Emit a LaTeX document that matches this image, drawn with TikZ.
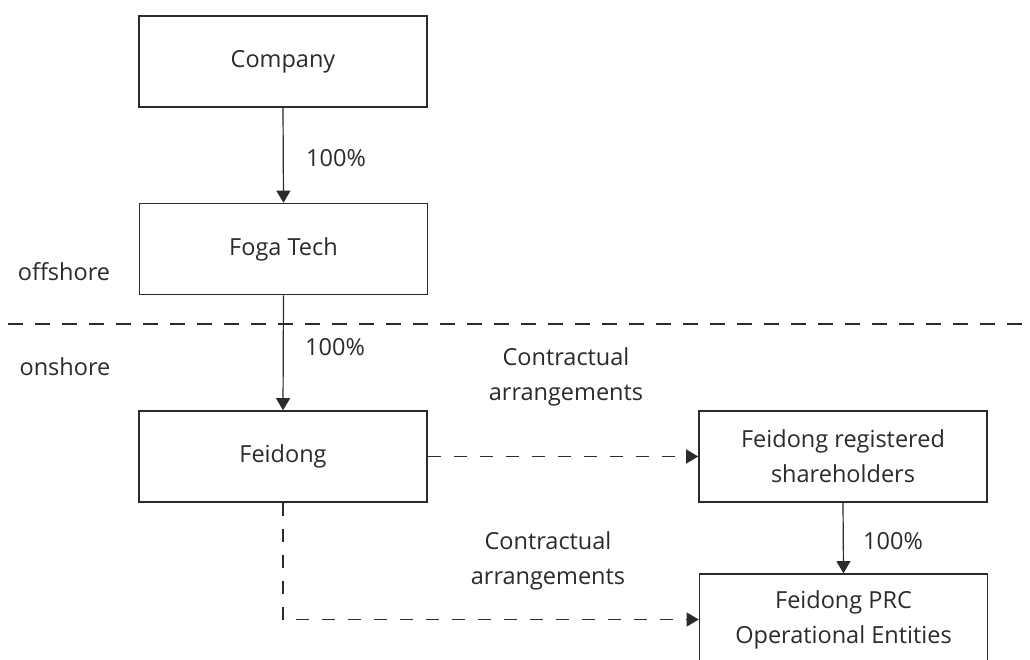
\documentclass[tikz,border=0pt]{standalone}
\usepackage{fontspec}
\setmainfont{Open Sans}
\usetikzlibrary{arrows.meta}
\definecolor{ink}{HTML}{2B2B2B}
\begin{document}
\begin{tikzpicture}[x=1pt,y=-1pt,
  every node/.style={text=ink,font=\fontsize{23.5}{35}\selectfont},
  box/.style={draw=ink,line width=1.6pt,minimum width=288pt,minimum height=91pt,align=center,inner sep=0pt},
  lbl/.style={align=center,inner sep=0pt},
  conn/.style={draw=ink,line width=1.2pt,-{Triangle[length=12pt,width=14pt]}},
  dconn/.style={conn,dash pattern=on 13pt off 13pt},
  divider/.style={draw=ink,line width=1.2pt,dash pattern=on 15pt off 12pt}]
\fill[white] (0,0) rectangle (1030,659);
\clip (0,0) rectangle (1030,659);
\useasboundingbox (0,0) rectangle (1030,659);

\node[box] (company) at (283,61.5) {Company};
\node[box] (foga) at (283.5,249) {Foga Tech};
\node[box] (feidong) at (283,456.5) {Feidong};
\node[box] (frs) at (843,456.5) {Feidong registered\\shareholders};
\node[box] (prc) at (843.5,619.5) {Feidong PRC\\Operational Entities};

\node[lbl] (off) at (64,272) {offshore};
\node[lbl] (on) at (65,367) {onshore};
\node[lbl] (p1) at (336,158) {100\%};
\node[lbl] (p2) at (335,347) {100\%};
\node[lbl] (p3) at (893,541) {100\%};
\node[lbl] (c1) at (566,377) {Contractual\\arrangements};
\node[lbl] (c2) at (548,561) {Contractual\\arrangements};

\coordinate (dl) at (8,324);
\coordinate (dr) at (1022,324);
\draw[divider] (dl) -- (dr);

\draw[conn] (company.south) -- (foga.north);
\draw[conn] (foga.south) -- (feidong.north);
\draw[conn] (frs.south) -- (prc.north);
\draw[dconn] (feidong.east) -- (frs.west);
\coordinate (corner) at (feidong.south |- prc.west);
\draw[dconn] (feidong.south) -- (corner) -- (prc.west);
\end{tikzpicture}
\end{document}
